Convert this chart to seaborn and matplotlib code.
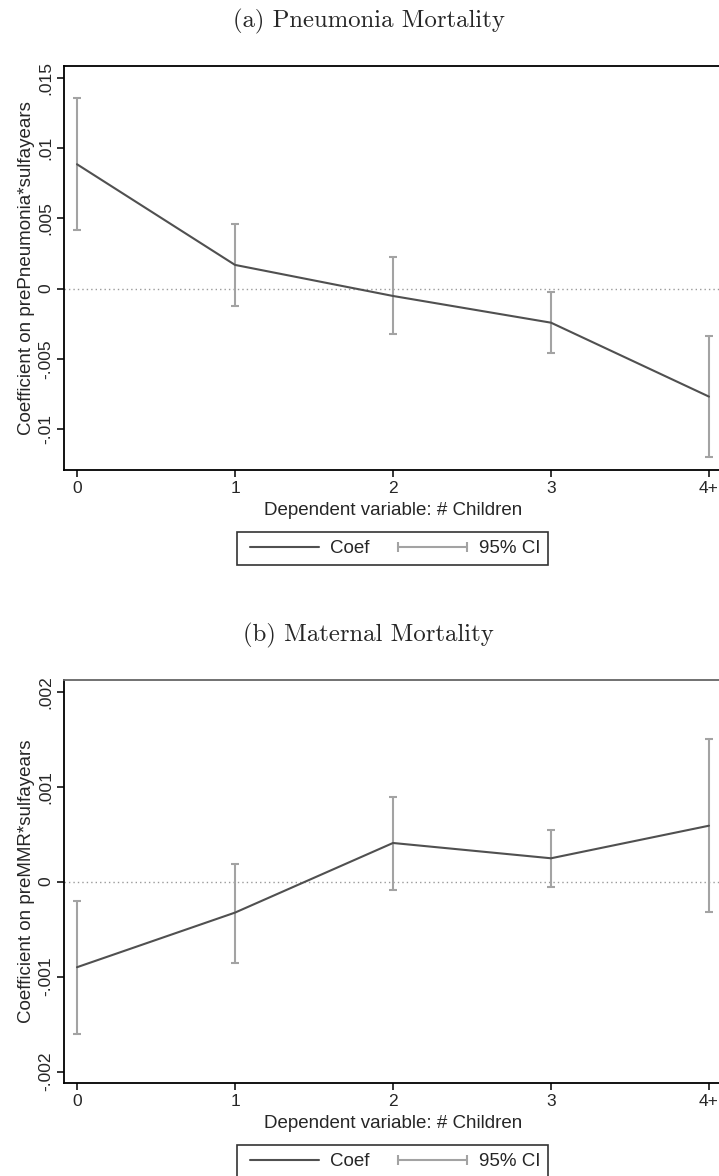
import numpy as np
import pandas as pd
import matplotlib
matplotlib.use("Agg")
import matplotlib.pyplot as plt
import seaborn as sns
from matplotlib.lines import Line2D

# x categories: number of children
x_pos = [0, 1, 2, 3, 4]
x_labels = ["0", "1", "2", "3", "4+"]

# (a) pneumonia mortality: coefficient and 95% CI
pneu_coef = [0.00885, 0.00169, -0.00052, -0.00242, -0.00768]
pneu_lo = [0.00417, -0.00125, -0.00324, -0.00455, -0.0120]
pneu_hi = [0.01356, 0.00462, 0.00223, -0.00026, -0.00339]
pneu_ticks = [0.015, 0.01, 0.005, 0, -0.005, -0.01]
pneu_ticklabels = [".015", ".01", ".005", "0", "-.005", "-.01"]

# (b) maternal mortality: coefficient and 95% CI
mmr_coef = [-0.000901, -0.000326, 0.000407, 0.000246, 0.000589]
mmr_lo = [-0.001607, -0.000853, -0.000084, -0.000056, -0.000319]
mmr_hi = [-0.000200, 0.000189, 0.000895, 0.000547, 0.001499]
mmr_ticks = [0.002, 0.001, 0, -0.001, -0.002]
mmr_ticklabels = [".002", ".001", "0", "-.001", "-.002"]

sns.set_theme(style="ticks")
plt.rcParams['font.family'] = ['Liberation Sans', 'DejaVu Sans']

COEF_COLOR = "#505050"
CI_COLOR = "#a3a3a3"

W, H = 719, 1176
fig = plt.figure(figsize=(W / 100, H / 100), dpi=100)


def panel(box, coef, lo, hi, ylim, ticks, ticklabels, ylabel, title, title_y, legend_y, topcolor):
    left, top, right, bottom = box
    ax = fig.add_axes([left / W, 1 - bottom / H, (right - left) / W, (bottom - top) / H])
    df = pd.DataFrame({"x": x_pos, "coef": coef, "lo": lo, "hi": hi})

    ax.axhline(0, color="#9a9a9a", lw=1.0, ls=(0, (1, 2.2)), zorder=1)
    sns.lineplot(data=df, x="x", y="coef", ax=ax, color=COEF_COLOR, lw=1.5, zorder=3)
    ax.errorbar(df["x"], df["coef"],
                yerr=[df["coef"] - df["lo"], df["hi"] - df["coef"]],
                fmt="none", ecolor=CI_COLOR, elinewidth=1.5, capsize=3.2,
                capthick=1.5, zorder=2)

    ax.set_xlim(-0.0823, 4.0823)
    ax.set_ylim(*ylim)
    ax.set_xticks(x_pos)
    ax.set_xticklabels(x_labels, fontsize=12.5)
    ax.set_yticks(ticks)
    ax.set_yticklabels(ticklabels, fontsize=12.5, rotation=90, va="center")
    ax.tick_params(axis="both", length=5, width=1.1, color="black", direction="out")
    ax.tick_params(axis="x", pad=3)
    ax.tick_params(axis="y", pad=3)
    ax.set_xlabel("Dependent variable: # Children", fontsize=13.5, labelpad=4)
    ax.set_ylabel(ylabel, fontsize=13.5, labelpad=2)
    for s in ["left", "bottom", "top", "right"]:
        ax.spines[s].set_color("black")
        ax.spines[s].set_linewidth(1.3)
    ax.spines["top"].set_color(topcolor)

    fig.text(0.513, 1 - title_y / H, title, family="cmr10", fontsize=17.8,
             ha="center", va="center")

    handles = [
        Line2D([0, 1], [0, 0], color=COEF_COLOR, lw=1.5),
        Line2D([0, 1], [0, 0], color=CI_COLOR, lw=1.5, marker="|",
               markersize=7, markeredgewidth=1.5),
    ]
    leg = fig.legend(handles, ["Coef", "95% CI"], ncol=2, numpoints=2,
                     loc="center", bbox_to_anchor=(392 / W, 1 - legend_y / H),
                     fontsize=13.5, frameon=True, fancybox=False,
                     handlelength=4.3, handletextpad=0.3, columnspacing=1.2,
                     borderpad=0.4, borderaxespad=0)
    leg.get_frame().set_edgecolor("black")
    leg.get_frame().set_linewidth(1.2)
    return ax


panel((64, 66, 722, 470), pneu_coef, pneu_lo, pneu_hi, (-0.0129, 0.01584),
      pneu_ticks, pneu_ticklabels, "Coefficient on prePneumonia*sulfayears",
      "(a) Pneumonia Mortality", 21, 548.5, "black")

panel((64, 680, 722, 1083), mmr_coef, mmr_lo, mmr_hi, (-0.00212, 0.002123),
      mmr_ticks, mmr_ticklabels, "Coefficient on preMMR*sulfayears",
      "(b) Maternal Mortality", 635, 1161.5, "#666666")

fig.savefig("out.png", dpi=100)
